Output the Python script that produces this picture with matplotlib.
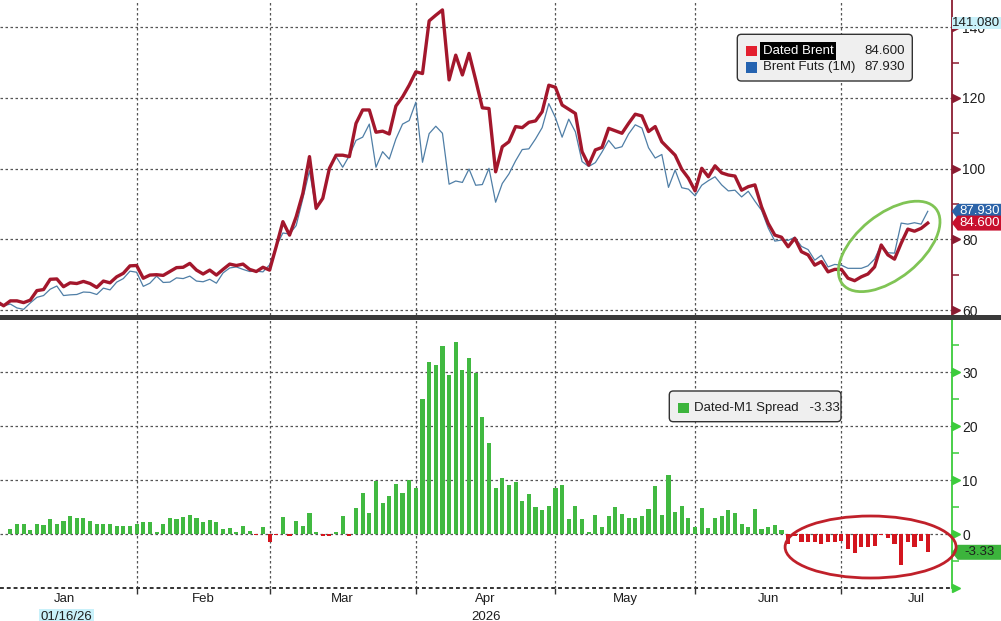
import numpy as np
import matplotlib
matplotlib.use('Agg')
import matplotlib.pyplot as plt
from matplotlib.patches import Polygon, Ellipse, FancyBboxPatch, Rectangle
from matplotlib.transforms import IdentityTransform, blended_transform_factory, ScaledTranslation

# ---------------- data ----------------
months = ['Jan', 'Feb', 'Mar', 'Apr', 'May', 'Jun', 'Jul']
month_starts = [-2.6, 19, 39, 61, 82, 103, 125, 147.6]   # business-day index of month boundaries
year_label = '2026'
cursor_date = '01/16/26'
cursor_value = 141.080
series_names = ['Dated Brent', 'Brent Futs (1M)']
spread_name = 'Dated-M1 Spread'

day_index = np.arange(-2, 139)

dated_brent = [
    62.4, 61.2,
    62.6, 62.6, 62.1, 62.8, 65.5, 65.8, 68.7, 68.8, 66.6, 67.7,
    67.5, 68.1, 67.5, 66.4, 68.2, 67.7, 69.4, 70.4, 72.5, 72.6,
    69.0, 69.9, 70.0, 69.8, 70.9, 72.0, 72.1, 73.2, 71.3, 70.2,
    71.3, 69.9, 71.5, 73.0, 72.6, 73.0, 71.5, 70.9, 72.1, 71.3,
    78.0, 85.0, 81.2, 86.4, 93.0, 103.4, 88.8, 91.6, 100.1, 103.8,
    103.8, 103.4, 112.8, 116.6, 116.6, 110.3, 110.6, 109.8, 117.7, 120.3,
    123.6, 127.4, 126.9, 141.8, 143.4, 144.9, 125.1, 132.1, 126.5, 132.6,
    125.1, 117.2, 117.0, 99.1, 106.2, 107.6, 111.9, 111.6, 113.1, 113.5,
    116.1, 123.6, 123.0, 118.0, 116.8, 115.6, 104.8, 101.0, 105.3, 106.0,
    111.4, 110.7, 110.0, 112.8, 115.4, 114.9, 110.5, 111.9, 107.6, 105.7,
    103.8, 99.8, 97.3, 93.7, 100.1, 97.7, 100.8, 98.8, 98.2, 97.9,
    93.9, 94.9, 95.4, 89.2, 84.5, 81.2, 80.6, 77.9, 80.3, 76.5,
    75.6, 72.7, 73.7, 70.8, 71.5, 71.5, 69.0, 68.3, 69.4, 70.2,
    72.2, 78.4, 75.6, 74.4, 78.9, 82.9, 82.3, 83.1, 84.6,
]

brent_futs = [
    61.6, 61.2,
    61.7, 60.6, 60.2, 62.0, 63.6, 64.1, 65.9, 66.8, 64.1, 64.3,
    64.4, 65.1, 65.0, 64.4, 66.2, 65.7, 67.9, 68.9, 71.0, 70.7,
    66.7, 67.6, 69.6, 67.8, 67.9, 69.1, 68.9, 69.6, 68.2, 68.0,
    68.7, 67.6, 70.5, 71.9, 72.2, 71.5, 70.9, 71.0, 70.8, 72.8,
    78.1, 81.8, 81.5, 83.9, 91.5, 99.4, 88.4, 92.0, 100.4, 103.4,
    100.4, 103.7, 108.0, 108.9, 112.6, 100.4, 104.8, 102.7, 108.4, 112.6,
    113.6, 118.8, 101.8, 109.9, 112.0, 110.0, 95.6, 96.5, 96.1, 99.9,
    95.3, 95.5, 100.1, 90.5, 95.8, 98.5, 102.2, 105.4, 105.6, 108.4,
    111.6, 118.4, 114.4, 108.9, 114.0, 110.4, 102.0, 100.6, 101.7, 104.7,
    108.0, 105.7, 106.2, 109.8, 112.4, 111.5, 105.9, 103.0, 104.0, 94.7,
    99.6, 94.6, 94.2, 92.3, 95.3, 96.6, 97.7, 95.4, 93.7, 93.9,
    92.0, 93.6, 90.8, 88.2, 83.2, 79.5, 79.8, 79.7, 80.6, 78.0,
    77.1, 74.1, 75.5, 72.2, 72.9, 72.7, 71.8, 71.8, 71.8, 72.5,
    74.4, 78.5, 76.2, 76.1, 84.6, 84.3, 84.7, 84.3, 87.93,
]

spread = [
    0.8, 0.0,
    0.9, 2.0, 1.9, 0.8, 1.85, 1.7, 2.8, 2.0, 2.5, 3.4,
    3.1, 3.0, 2.5, 2.0, 2.0, 2.0, 1.5, 1.5, 1.5, 1.9,
    2.3, 2.3, 0.4, 2.0, 3.0, 2.9, 3.2, 3.6, 3.1, 2.2,
    2.6, 2.3, 1.0, 1.1, 0.4, 1.5, 0.6, -0.1, 1.3, -1.5,
    -0.1, 3.2, -0.3, 2.5, 1.5, 4.0, 0.4, -0.4, -0.3, 0.4,
    3.4, -0.3, 4.8, 7.7, 4.0, 9.9, 5.8, 7.1, 9.3, 7.7,
    10.0, 8.6, 25.1, 31.9, 31.4, 34.9, 29.5, 35.6, 30.4, 32.7,
    29.8, 21.7, 16.9, 8.6, 10.4, 9.1, 9.75, 6.2, 7.5, 5.1,
    4.5, 5.2, 8.6, 9.1, 2.8, 5.2, 2.8, 0.4, 3.6, 1.3,
    3.4, 5.0, 3.8, 3.0, 3.0, 3.4, 4.6, 8.95, 3.6, 11.0,
    4.2, 5.2, 3.1, 1.4, 4.8, 1.1, 3.1, 3.4, 4.5, 4.0,
    1.9, 1.3, 4.6, 1.0, 1.3, 1.7, 0.8, -1.8, -0.3, -1.5,
    -1.5, -1.4, -1.8, -1.4, -1.4, -1.2, -2.8, -3.5, -2.4, -2.3,
    -2.2, -0.1, -0.6, -1.7, -5.7, -1.4, -2.4, -1.2, -3.33,
]

price_ticks = [60, 80, 100, 120, 140]
price_minor = [70, 90, 110, 130]
spread_ticks = [-10, 0, 10, 20, 30]
spread_tick_labels = ['', '0', '10', '20', '30']
spread_minor = [-5, 5, 15, 25, 35]

# ---------------- style ----------------
plt.rcParams['font.family'] = ['Liberation Sans', 'DejaVu Sans']
W, H = 1001, 621
RED_LINE = '#a3172c'
BLUE_LINE = '#4f7ea6'
GREEN_BAR = '#41b941'
RED_BAR = '#d4151e'
MAROON = '#8b1c32'
GREEN_AX = '#3ccc3c'
GRID = '#555555'
TXT = '#1e1e1e'
FS = 9.5

fig = plt.figure(figsize=(W / 100, H / 100), dpi=100)
fig.patch.set_facecolor('white')

ax1 = fig.add_axes([0, 1 - 315 / H, 951.7 / W, 315 / H])
ax2 = fig.add_axes([0, 1 - 588.3 / H, 951.7 / W, (588.3 - 319.5) / H])

xlim = (-1.55, 141.6)
for ax in (ax1, ax2):
    ax.set_xlim(*xlim)
    for s in ('top', 'left', 'bottom'):
        ax.spines[s].set_visible(False)
    ax.set_facecolor('white')
    for b in month_starts[1:-1]:
        ax.axvline(b, color=GRID, lw=0.9, ls=(0, (2, 2)), zorder=1)

ax1.set_ylim(58.6, 147.7)
ax2.set_ylim(-10, 39.8)

# top panel lines
ax1.plot(day_index, brent_futs, color=BLUE_LINE, lw=0.9, zorder=3)
ax1.plot(day_index, dated_brent, color=RED_LINE, lw=2.4, zorder=4)
for v in price_ticks:
    ax1.axhline(v, color=GRID, lw=0.9, ls=(0, (2, 2)), zorder=1)

# bottom panel bars
spread_arr = np.array(spread)
bar_colors = np.where(spread_arr >= 0, GREEN_BAR, RED_BAR)
ax2.bar(day_index, spread_arr, width=0.62, color=bar_colors, zorder=2)
for v in spread_ticks[1:]:
    ax2.axhline(v, color=GRID, lw=0.9, ls=(0, (2, 2)), zorder=1)
ax2.axhline(-10, color='#333333', lw=1.4, ls=(0, (2, 1.5)), zorder=1, clip_on=False)

# right axes
def style_right(ax, color, major, labels, minor):
    ax.spines['right'].set_color(color)
    ax.spines['right'].set_linewidth(1.3)
    ax.yaxis.tick_right()
    ax.set_yticks(major)
    ax.set_yticklabels(labels)
    ax.set_yticks(minor, minor=True)
    ax.tick_params(axis='y', which='major', length=0, pad=7.5, labelsize=10, labelcolor=TXT)
    ax.tick_params(axis='y', which='minor', length=5, width=1.1, color=color, direction='out')
    tr = blended_transform_factory(ax.transAxes, ax.transData) + ScaledTranslation(0.04, 0, fig.dpi_scale_trans)
    ax.plot([1] * len(major), major, ls='none', marker='>', ms=5.5, color=color,
            transform=tr, clip_on=False, zorder=6)

style_right(ax1, MAROON, price_ticks, [str(v) for v in price_ticks], price_minor)
style_right(ax2, GREEN_AX, spread_ticks, spread_tick_labels, spread_minor)

# x axis (bottom panel)
ax1.set_xticks([])
ax2.set_xticks(month_starts[1:-1])
ax2.set_xticklabels([])
ax2.tick_params(axis='x', which='major', length=4, width=1, color='#333333', direction='out')
mids = [(month_starts[k] + month_starts[k + 1]) / 2 for k in range(len(months))]
ax2.set_xticks(mids, minor=True)
ax2.set_xticklabels(months, minor=True)
ax2.tick_params(axis='x', which='minor', length=0, pad=3.5, labelsize=FS, labelcolor=TXT)

tr_x = blended_transform_factory(ax2.transData, ax2.transAxes)
ax2.text(mids[months.index('Apr')], -0.106, year_label, transform=tr_x, ha='center', va='center',
         fontsize=FS, color=TXT)
ax2.text(8.5, -0.106, cursor_date, transform=tr_x, ha='center', va='center', fontsize=FS,
         color=TXT, bbox=dict(fc='#c9f1fa', ec='none', pad=1.2))

# separator band
fig.add_artist(Rectangle((0, H - 320), W, 5, transform=IdentityTransform(), fc='#3a3a3a', ec='none', zorder=5))

# right-side value tags
def tag(ax, val, text, fc, tc, h=7.5, arrow=True, z=7, cx=None):
    xd, yd = ax.transData.transform((xlim[1], val))
    if arrow:
        pts = [(xd, yd), (xd + 6, yd + h), (W, yd + h), (W, yd - h), (xd + 6, yd - h)]
    else:
        pts = [(xd, yd + h), (W, yd + h), (W, yd - h), (xd, yd - h)]
    fig.add_artist(Polygon(pts, closed=True, transform=IdentityTransform(), fc=fc, ec='none', zorder=z))
    if cx is None:
        cx = (xd + 6 + W) / 2
    fig.text(cx, yd, text, transform=IdentityTransform(), ha='center', va='center',
             fontsize=FS, color=tc, zorder=z + 0.5)

tag(ax1, cursor_value, '%.3f' % cursor_value, '#c9f1fa', TXT, h=6, arrow=False, cx=976)
tag(ax1, brent_futs[-1], '%.3f' % brent_futs[-1], '#2b63a8', 'white')
tag(ax1, dated_brent[-1], '%.3f' % dated_brent[-1], '#c8102e', 'white', z=8)
tag(ax2, spread[-1], '%.2f' % spread[-1], '#3cb43c', TXT)

# legends (pixel layout)
def px(x, y):
    return (x, H - y)

fig.add_artist(FancyBboxPatch(px(737.3, 81), 175, 46.7, boxstyle='round,pad=0,rounding_size=4',
                              transform=IdentityTransform(), fc='#efefef', ec='#333333', lw=1, zorder=6))
fig.add_artist(Rectangle(px(746, 56), 11, 10.5, transform=IdentityTransform(), fc='#e3202f', ec='none', zorder=7))
fig.add_artist(Rectangle(px(746, 72.5), 11, 10.5, transform=IdentityTransform(), fc='#2563b0', ec='none', zorder=7))
fig.text(*px(763, 51), series_names[0], transform=IdentityTransform(), ha='left', va='center', fontsize=FS,
         color='white', zorder=8, bbox=dict(fc='black', ec='none', pad=1.8))
fig.text(*px(763, 67), series_names[1], transform=IdentityTransform(), ha='left', va='center', fontsize=FS,
         color=TXT, zorder=8)
fig.text(*px(905, 51), '%.3f' % dated_brent[-1], transform=IdentityTransform(), ha='right', va='center',
         fontsize=FS, color=TXT, zorder=8)
fig.text(*px(905, 67), '%.3f' % brent_futs[-1], transform=IdentityTransform(), ha='right', va='center',
         fontsize=FS, color=TXT, zorder=8)

fig.add_artist(FancyBboxPatch(px(669.3, 421.7), 171.7, 30.7, boxstyle='round,pad=0,rounding_size=4',
                              transform=IdentityTransform(), fc='#efefef', ec='#333333', lw=1, zorder=6))
fig.add_artist(Rectangle(px(678, 413), 11, 10.5, transform=IdentityTransform(), fc='#3cb43c', ec='none', zorder=7))
fig.text(*px(694, 408), '%s   %.2f' % (spread_name, spread[-1]), transform=IdentityTransform(), ha='left',
         va='center', fontsize=FS, color=TXT, zorder=8)

# highlight ellipses
gx, gy = ax1.transData.transform((132.2, 78.0))
fig.add_artist(Ellipse((gx, gy), 120, 64, angle=39, transform=IdentityTransform(), fill=False,
                       ec='#80c455', lw=2.0, zorder=7))
rx, ry = ax2.transData.transform((129.4, -2.35))
fig.add_artist(Ellipse((rx, ry), 171, 62, angle=0, transform=IdentityTransform(), fill=False,
                       ec='#c0202a', lw=2.0, zorder=7))

fig.savefig('out.png', dpi=100)
